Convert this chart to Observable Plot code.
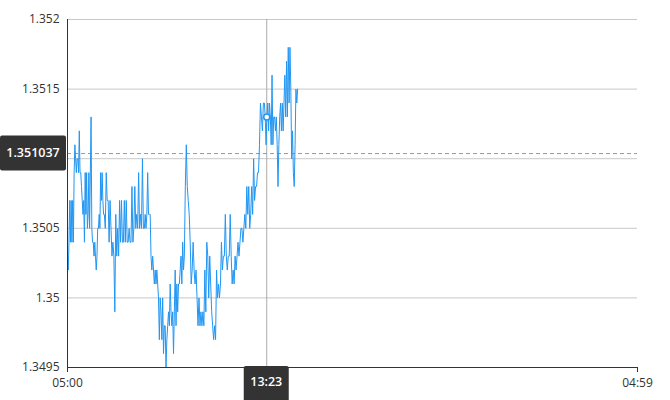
<!DOCTYPE html>
<html><head><meta charset="utf-8">
<script src="https://cdn.jsdelivr.net/npm/d3@7"></script>
<script src="https://cdn.jsdelivr.net/npm/@observablehq/plot@0.6"></script>
<style>body{margin:0;background:#fff;} #chart{width:670px;height:400px;}</style>
</head><body><div id="chart"></div>
<script>
// Segment boundaries (time of day); prices inside a segment are consecutive ticks
const segmentBounds = ["05:00","06:33","08:14","09:55","11:36","13:17","14:41"];
const seg1 = [1.3503,1.3502,1.3504,1.3507,1.3504,1.3507,1.3504,1.3507,1.3504,1.3509,1.3511,1.3510,1.3509,1.3510,1.3510,1.3509,1.3512,1.3509,1.3509,1.3508,1.3507,1.3506,1.3507,1.3504,1.3509,1.3506,1.3509,1.3505,1.3506,1.3509,1.3505,1.3509,1.3513,1.3505,1.3504,1.3504,1.3503,1.3504,1.3503,1.3502,1.3503,1.3505,1.3505,1.3506,1.3505,1.3509,1.3507,1.3509,1.3507,1.3506];
const seg2 = [1.3506,1.3505,1.3509,1.3507,1.3507,1.3504,1.3507,1.3505,1.3503,1.3504,1.3503,1.3499,1.3506,1.3503,1.3505,1.3503,1.3507,1.3504,1.3507,1.3504,1.3504,1.3507,1.3504,1.3507,1.3504,1.3504,1.3505,1.3504,1.3504,1.3508,1.3504,1.3505,1.3508,1.3505,1.3506,1.3505,1.3509,1.3505,1.3506,1.3505,1.3510,1.3505];
const seg3 = [1.3505,1.3506,1.3505,1.3506,1.3509,1.3506,1.3506,1.3506,1.3503,1.3502,1.3503,1.3502,1.3501,1.3502,1.3501,1.3502,1.3501,1.3500,1.3497,1.3500,1.3499,1.3497,1.3500,1.3496,1.3498,1.3498,1.3495,1.3497,1.3498,1.3499,1.3498,1.3501,1.3499,1.3498,1.3499,1.3496,1.3499,1.3502,1.3498,1.3501,1.3499,1.3501,1.3501,1.3502,1.3503,1.3501,1.3504,1.3502];
const seg4 = [1.3503,1.3508,1.3511,1.3508,1.3507,1.3506,1.3504,1.3501,1.3502,1.3504,1.3502,1.3501,1.3502,1.3500,1.3498,1.3500,1.3498,1.3499,1.3498,1.3499,1.3498,1.3502,1.3499,1.3504,1.3503,1.3500,1.3503,1.3501,1.3499,1.3498,1.3497,1.3498,1.3497,1.3502,1.3500,1.3501,1.3500,1.3501,1.3504,1.3502,1.3503];
const seg5 = [1.3503,1.3506,1.3503,1.3502,1.3503,1.3503,1.3506,1.3503,1.3501,1.3502,1.3501,1.3503,1.3502,1.3503,1.3504,1.3503,1.3504,1.3505,1.3505,1.3504,1.3505,1.3506,1.3505,1.3508,1.3506,1.3508,1.3505,1.3506,1.3508,1.3506,1.3510,1.3507,1.3508,1.3508,1.3509,1.3509,1.3511,1.3514,1.3513,1.3512,1.3514];
const seg6 = [1.3514,1.3513,1.3511,1.3513,1.3514,1.3512,1.3514,1.3513,1.3511,1.3516,1.3511,1.3513,1.3513,1.3512,1.3513,1.3511,1.3508,1.3511,1.3513,1.3514,1.3512,1.3514,1.3512,1.3514,1.3516,1.3513,1.3517,1.3513,1.3518,1.3514,1.3518,1.3515,1.3510,1.3512,1.3509,1.3508,1.3511,1.3515,1.3514,1.3515];

const yTicks = [1.3495, 1.35, 1.3505, 1.351, 1.3515, 1.352];
const xStartLabel = "05:00";
const xEndLabel = "04:59";
const cursorTime = "13:23";
const cursorSeriesPrice = 1.3513;
const cursorPrice = 1.351037;

const day = (s, next) => { const [h, m] = s.split(":").map(Number); return new Date(Date.UTC(2024, 0, next ? 2 : 1, h, m)); };

const segments = [seg1, seg2, seg3, seg4, seg5, seg6];
const data = [];
segments.forEach((vals, i) => {
  const t0 = +day(segmentBounds[i]), t1 = +day(segmentBounds[i + 1]);
  const n = i === segments.length - 1 ? vals.length - 1 : vals.length;
  vals.forEach((v, j) => data.push({t: new Date(t0 + (t1 - t0) * j / n), price: v}));
});

const xDomain = [day(xStartLabel), day(xEndLabel, true)];
const yDomain = [1.3495, 1.352];
const fmtX = d3.utcFormat("%H:%M");
const fmtY = d => String(+(+d).toFixed(4));

// the tick label that sits under the cursor price box is hidden by it
const yRange = 400 - 33 - 19;
const pxPerUnit = yRange / (yDomain[1] - yDomain[0]);
const visibleYTicks = yTicks.filter(v => Math.abs(v - cursorPrice) * pxPerUnit > 17.5);

const plot = Plot.plot({
  width: 670, height: 400,
  marginLeft: 67, marginRight: 33, marginTop: 19, marginBottom: 33,
  style: {fontFamily: "'Open Sans', 'Noto Sans', sans-serif", fontSize: "12px", color: "#333", background: "#fff", overflow: "visible"},
  x: {type: "utc", domain: xDomain, axis: null, label: null},
  y: {domain: yDomain, axis: null, label: null},
  marks: [
    Plot.gridY(yTicks, {stroke: "#c8c8c8", strokeOpacity: 1}),
    Plot.axisY(visibleYTicks, {tickSize: 0, tickPadding: 8, tickFormat: fmtY, fill: "#333", fontSize: 12, label: null}),
    Plot.axisX(xDomain, {tickSize: 5, tickPadding: 6, tickFormat: fmtX, fill: "#333", stroke: "#333", fontSize: 12, label: null}),
    Plot.ruleX([day(cursorTime)], {stroke: "#aaa", strokeWidth: 1}),
    Plot.ruleY([cursorPrice], {stroke: "#999", strokeDasharray: "4,3"}),
    Plot.line(data, {x: "t", y: "price", stroke: "#2196f3", strokeWidth: 1}),
    Plot.ruleX([xDomain[0]], {stroke: "#333"}),
    Plot.ruleY([yDomain[0]], {stroke: "#333"}),
    Plot.dot([{t: day(cursorTime), price: cursorSeriesPrice}], {x: "t", y: "price", r: 3, fill: "#fff", stroke: "#2196f3", strokeWidth: 1.5})
  ]
});

const xs = plot.scale("x"), ys = plot.scale("y");
const svg = d3.select(plot);
const yPos = ys.apply(cursorPrice);
const gy = svg.append("g");
gy.append("rect").attr("x", 0).attr("y", yPos - 17.5).attr("width", 66).attr("height", 35).attr("rx", 2).attr("fill", "#333");
gy.append("text").attr("x", 33).attr("y", yPos).attr("dy", "0.35em").attr("text-anchor", "middle")
  .attr("fill", "#fff").attr("font-size", 12.5).attr("font-weight", 600).text(String(cursorPrice));
const xPos = xs.apply(day(cursorTime));
const gx = svg.append("g");
gx.append("rect").attr("x", xPos - 22.5).attr("y", 366).attr("width", 45).attr("height", 36).attr("rx", 2).attr("fill", "#333");
gx.append("text").attr("x", xPos).attr("y", 382).attr("dy", "0.35em").attr("text-anchor", "middle")
  .attr("fill", "#fff").attr("font-size", 12.5).attr("font-weight", 600).text(cursorTime);

document.getElementById("chart").append(plot);
</script>
</body></html>
